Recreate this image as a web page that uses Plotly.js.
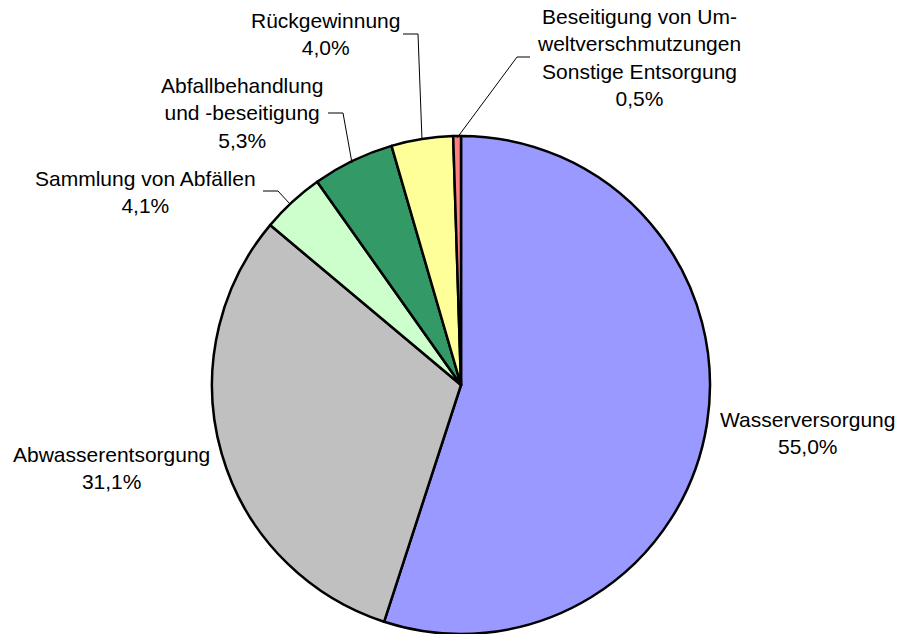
<!DOCTYPE html>
<html>
<head>
<meta charset="utf-8">
<script src="https://cdn.plot.ly/plotly-3.0.1.min.js"></script>
<style>html,body{margin:0;padding:0;background:#fff;}#chart{width:902px;height:634px;}</style>
</head>
<body>
<div id="chart"></div>
<script>
// Data
var categories = ["Wasserversorgung", "Abwasserentsorgung", "Sammlung von Abfällen", "Abfallbehandlung<br>und -beseitigung", "Rückgewinnung", "Beseitigung von Um-<br>weltverschmutzungen<br>Sonstige Entsorgung"];
var shares = [55.0, 31.1, 4.1, 5.3, 4.0, 0.5];
var colors = ["#9999FF", "#C0C0C0", "#CCFFCC", "#339966", "#FFFF99", "#FF8080"];

// Label positions (pixels) for the outside labels
var labelPos = [[807, 433], [111, 468], [145, 192], [242, 113], [325, 34], [639, 58]];
// Leader lines (pixels)
var leaders = [
  null,
  null,
  [[263, 191], [278, 191], [290, 204]],
  [[328, 113], [343, 113], [352, 163]],
  [[403, 34], [418, 34], [422, 140]],
  [[530, 57], [517, 57], [457, 138]]
];

var W = 902, H = 634;
function px(x) { return x / W; }
function py(y) { return 1 - y / H; }

var fmt = function (v) { return v.toFixed(1).replace('.', ',') + '%'; };

var annotations = categories.map(function (c, i) {
  return {
    xref: 'paper', yref: 'paper',
    x: px(labelPos[i][0]), y: py(labelPos[i][1]),
    xanchor: 'center', yanchor: 'middle',
    text: c + '<br>' + fmt(shares[i]),
    showarrow: false,
    font: {family: 'Liberation Sans, Arial, sans-serif', size: 21, color: '#000'},
    align: 'center'
  };
});

var shapes = [];
leaders.forEach(function (pts) {
  if (!pts) return;
  var d = pts.map(function (p, k) { return (k ? 'L' : 'M') + px(p[0]) + ',' + py(p[1]); }).join(' ');
  shapes.push({type: 'path', xref: 'paper', yref: 'paper', path: d, line: {color: '#000', width: 1}});
});

var trace = {
  type: 'pie',
  labels: categories,
  values: shares,
  sort: false,
  direction: 'clockwise',
  rotation: 0,
  textinfo: 'none',
  hoverinfo: 'label+percent',
  marker: {colors: colors, line: {color: '#000', width: 2.5}},
  domain: {x: [px(211), px(711)], y: [0, py(136)]}
};

var layout = {
  width: W, height: H,
  margin: {l: 0, r: 0, t: 0, b: 0},
  paper_bgcolor: '#fff',
  showlegend: false,
  annotations: annotations,
  shapes: shapes,
  font: {family: 'Liberation Sans, Arial, sans-serif'}
};

Plotly.newPlot('chart', [trace], layout, {displayModeBar: false, staticPlot: true});
</script>
</body>
</html>
